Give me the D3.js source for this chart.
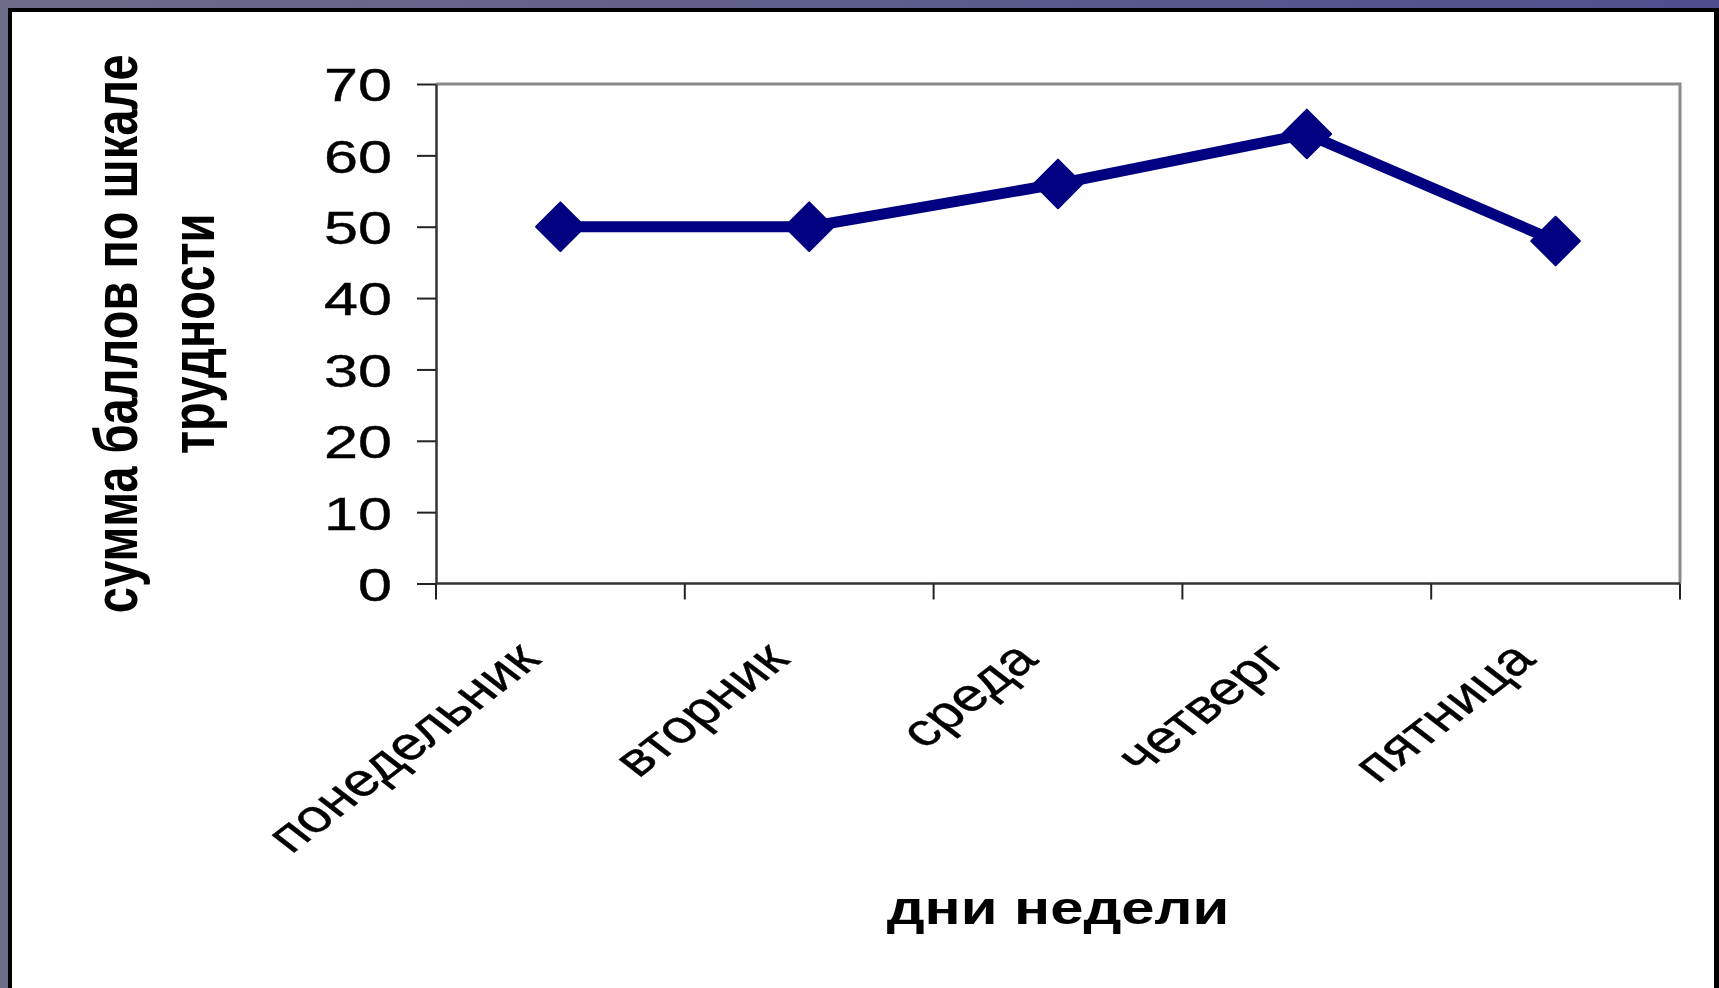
<!DOCTYPE html>
<html>
<head>
<meta charset="utf-8">
<script src="https://cdn.jsdelivr.net/npm/d3@7"></script>
<style>
  html, body { margin: 0; padding: 0; background: #fff; overflow: hidden; }
  text { font-family: "Liberation Sans", Arial, sans-serif; fill: #000; }
</style>
</head>
<body>
<svg id="chart" width="1719" height="988"></svg>
<script>
// Days of the week and the summed difficulty score for each
const days = ["понедельник", "вторник", "среда", "четверг", "пятница"];
const scores = [50, 50, 56, 63, 48];
const yTicks = [0, 10, 20, 30, 40, 50, 60, 70];
const yTitleLines = ["сумма баллов по шкале", "трудности"];
const xTitle = "дни недели";

const W = 1719, H = 988;
const plot = { left: 436, right: 1680, top: 84, bottom: 583.5 };
const STRETCH = 1.3;          // slide text is drawn horizontally widened
const NAVY = "#000080";

const svg = d3.select("#chart");

// slide background and frame
const defs = svg.append("defs");
const grad = defs.append("linearGradient").attr("id", "bg")
  .attr("x1", 0).attr("x2", 1).attr("y1", 0).attr("y2", 0);
grad.append("stop").attr("offset", 0).attr("stop-color", "#6d6c89");
grad.append("stop").attr("offset", 1).attr("stop-color", "#4f4f8e");
svg.append("rect").attr("width", W).attr("height", H).attr("fill", "url(#bg)");
svg.append("rect").attr("x", 8).attr("y", 8).attr("width", W - 8).attr("height", H).attr("fill", "#000");
svg.append("rect").attr("x", 12).attr("y", 12).attr("width", W - 17).attr("height", H).attr("fill", "#fff");

// scales
const x = d3.scaleBand().domain(days).range([plot.left, plot.right]);
const xc = d => x(d) + x.bandwidth() / 2;
const y = d3.scaleLinear().domain([0, 70]).range([plot.bottom, plot.top]);

// plot frame (top and right edges)
svg.append("path")
  .attr("d", `M${plot.left},${plot.top}H${plot.right}V${plot.bottom}`)
  .attr("fill", "none").attr("stroke", "#8a8a8a").attr("stroke-width", 3);

// y axis
const yAxis = svg.append("g")
  .attr("transform", `translate(${plot.left},0)`)
  .call(d3.axisLeft(y).tickValues(yTicks).tickSize(19).tickSizeOuter(0).tickFormat(""));
yAxis.select(".domain").attr("stroke", "#333").attr("stroke-width", 2.5);
yAxis.selectAll(".tick line").attr("stroke", "#222").attr("stroke-width", 2);
yAxis.selectAll(".tick text").remove();
yAxis.selectAll(".tick").append("text")
  .attr("transform", `translate(-44,0) scale(${STRETCH},1)`)
  .attr("text-anchor", "end")
  .attr("dy", "0.36em")
  .style("font-size", "47px")
  .style("stroke", "#000").style("stroke-width", 0.4)
  .text(d => d);

// x axis: baseline and category boundary ticks
const xAxis = svg.append("g").attr("transform", `translate(0,${plot.bottom})`);
xAxis.append("line")
  .attr("x1", plot.left).attr("x2", plot.right)
  .attr("stroke", "#333").attr("stroke-width", 2.5);
const edges = days.map(d => x(d)).concat([x.range()[1]]);
xAxis.selectAll("line.tick").data(edges).join("line")
  .attr("class", "tick")
  .attr("x1", d => d).attr("x2", d => d)
  .attr("y1", 0).attr("y2", 16)
  .attr("stroke", "#222").attr("stroke-width", 2);

// rotated category labels
svg.append("g").selectAll("text").data(days).join("text")
  .attr("transform", d => `translate(${xc(d) - 18},${plot.bottom + 78}) scale(${STRETCH},1) rotate(-45)`)
  .attr("text-anchor", "end")
  .style("font-size", "46px")
  .style("stroke", "#000").style("stroke-width", 0.4)
  .text(d => d);

// axis titles
svg.append("text")
  .attr("transform", `translate(${(plot.left + plot.right) / 2},924) scale(${STRETCH},1)`)
  .attr("text-anchor", "middle")
  .style("font-size", "46px").style("font-weight", "bold")
  .text(xTitle);

const titleX = [137, 214];
svg.append("g").selectAll("text").data(yTitleLines).join("text")
  .attr("transform", (d, i) => `translate(${titleX[i]},${(plot.top + plot.bottom) / 2}) scale(${STRETCH},1) rotate(-90)`)
  .attr("text-anchor", "middle")
  .style("font-size", "47px").style("font-weight", "bold")
  .text(d => d);

// data line and diamond markers
const pts = days.map((d, i) => ({ day: d, v: scores[i] }));
svg.append("path")
  .datum(pts)
  .attr("fill", "none")
  .attr("stroke", NAVY)
  .attr("stroke-width", 11)
  .attr("stroke-linejoin", "round")
  .attr("d", d3.line().x(d => xc(d.day)).y(d => y(d.v)));

const diamond = d3.symbol().type(d3.symbolSquare).size(1180);
svg.append("g").selectAll("path").data(pts).join("path")
  .attr("transform", d => `translate(${xc(d.day)},${y(d.v)}) rotate(45)`)
  .attr("d", diamond)
  .attr("fill", NAVY)
  .attr("stroke", NAVY).attr("stroke-width", 2).attr("stroke-linejoin", "round");
</script>
</body>
</html>
